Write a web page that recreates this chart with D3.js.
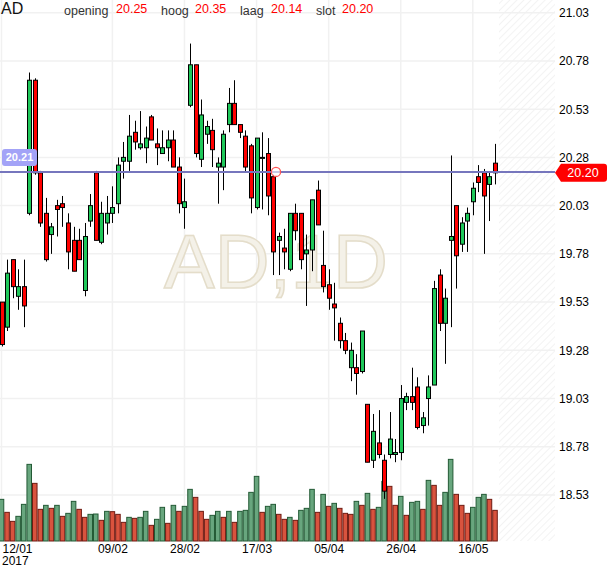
<!DOCTYPE html>
<html>
<head>
<meta charset="utf-8">
<script src="https://cdn.jsdelivr.net/npm/d3@7"></script>
<style>
  body { margin: 0; background: #fff; }
  svg { display: block; font-family: "Liberation Sans", Arial, sans-serif; }
</style>
</head>
<body>
<div id="chart"></div>
<script>
var dates = [
  "2017-01-12","2017-01-13","2017-01-16","2017-01-17","2017-01-18","2017-01-19","2017-01-20","2017-01-23","2017-01-24","2017-01-25",
  "2017-01-26","2017-01-27","2017-01-30","2017-01-31","2017-02-01","2017-02-02","2017-02-03","2017-02-06","2017-02-07","2017-02-08",
  "2017-02-09","2017-02-10","2017-02-13","2017-02-14","2017-02-15","2017-02-16","2017-02-17","2017-02-20","2017-02-21","2017-02-22",
  "2017-02-23","2017-02-24","2017-02-27","2017-02-28","2017-03-01","2017-03-02","2017-03-03","2017-03-06","2017-03-07","2017-03-08",
  "2017-03-09","2017-03-10","2017-03-13","2017-03-14","2017-03-15","2017-03-16","2017-03-17","2017-03-20","2017-03-21","2017-03-22",
  "2017-03-23","2017-03-24","2017-03-27","2017-03-28","2017-03-29","2017-03-30","2017-03-31","2017-04-03","2017-04-04","2017-04-05",
  "2017-04-06","2017-04-07","2017-04-10","2017-04-11","2017-04-12","2017-04-13","2017-04-18","2017-04-19","2017-04-20","2017-04-21",
  "2017-04-24","2017-04-25","2017-04-26","2017-04-27","2017-04-28","2017-05-02","2017-05-03","2017-05-04","2017-05-05","2017-05-08",
  "2017-05-09","2017-05-10","2017-05-11","2017-05-12","2017-05-15","2017-05-16","2017-05-17","2017-05-18","2017-05-19","2017-05-22"
];

var opens = [
  19.53,19.40,19.75,19.56,19.61,19.99,20.68,20.20,19.99,19.88,
  20.03,20.04,19.94,19.85,19.85,19.59,19.95,20.20,19.84,19.94,
  19.99,20.04,20.26,20.26,20.41,20.33,20.33,20.49,20.35,20.30,
  20.33,20.37,20.23,20.02,20.55,20.76,20.27,20.40,20.42,20.23,
  20.23,20.45,20.56,20.45,20.39,20.34,20.02,20.28,20.30,20.18,
  19.85,19.81,19.70,19.99,19.99,19.78,19.80,20.11,19.72,19.62,
  19.52,19.42,19.33,19.19,19.19,19.17,19.00,18.71,18.80,18.71,
  18.74,18.74,18.75,19.01,19.04,19.09,18.89,19.03,19.10,19.67,
  19.42,19.85,20.03,19.83,19.95,20.05,20.18,20.20,20.14,20.25
];
var highs = [
  19.53,19.75,19.75,19.70,19.75,20.72,20.69,20.21,20.07,19.94,
  20.06,20.08,19.99,19.92,19.91,19.94,20.09,20.21,20.05,20.08,
  20.13,20.28,20.36,20.50,20.47,20.52,20.44,20.50,20.43,20.42,
  20.42,20.42,20.28,20.17,20.87,20.76,20.58,20.47,20.48,20.28,
  20.42,20.64,20.68,20.45,20.42,20.35,20.38,20.41,20.38,20.19,
  19.89,19.91,19.99,20.04,19.99,19.88,20.06,20.16,19.90,19.70,
  19.63,19.45,19.37,19.32,19.26,19.38,19.00,18.95,18.97,18.74,
  18.96,18.82,19.10,19.06,19.19,19.14,18.96,19.15,19.64,19.70,
  19.60,20.29,20.03,19.97,20.02,20.15,20.24,20.22,20.20,20.35
];
var lows = [
  19.30,19.38,19.55,19.49,19.40,19.98,20.19,19.92,19.74,19.78,
  19.87,19.92,19.70,19.69,19.75,19.56,19.92,19.85,19.83,19.88,
  19.94,19.99,20.17,20.21,20.32,20.32,20.25,20.37,20.24,20.30,
  20.26,20.23,19.99,19.91,20.54,20.28,20.23,20.35,20.23,20.04,
  20.11,20.41,20.45,20.38,20.20,19.99,20.01,20.01,19.98,19.67,
  19.67,19.70,19.69,19.85,19.70,19.51,19.69,19.93,19.58,19.49,
  19.33,19.29,19.26,19.12,19.05,19.16,18.70,18.67,18.72,18.51,
  18.72,18.70,18.71,18.97,18.97,18.87,18.85,18.89,19.10,19.38,
  19.21,19.40,19.60,19.79,19.79,19.98,20.10,19.78,19.95,20.14
];
var closes = [
  19.31,19.68,19.61,19.61,19.51,20.68,20.20,19.94,19.75,19.92,
  20.01,20.02,19.79,19.69,19.75,19.87,20.03,19.85,19.99,19.99,
  20.02,20.24,20.28,20.39,20.36,20.35,20.38,20.37,20.33,20.33,
  20.37,20.23,20.04,20.05,20.76,20.30,20.50,20.44,20.32,20.25,
  20.40,20.56,20.45,20.41,20.23,20.07,20.38,20.28,20.08,19.79,
  19.87,19.79,19.99,19.90,19.75,19.80,20.06,19.93,19.61,19.55,
  19.50,19.33,19.28,19.28,19.16,19.38,18.70,18.86,18.74,18.55,
  18.82,18.75,19.03,19.04,19.01,18.88,18.93,19.09,19.60,19.42,
  19.55,19.87,19.77,19.94,19.99,20.12,20.15,20.08,20.18,20.20
];
var volumes = [
  125000, 86000, 59000, 74000,110000,230000,173000, 95000,107000, 98000,
  107000, 74000, 83000,119000, 95000, 71000, 80000, 81000, 62000, 89000,
   88000, 80000, 56000, 71000, 68000, 71000, 89000, 47000, 65000,101000,
   53000,107000, 89000,104000,155000,131000, 89000, 65000, 77000, 89000,
   71000, 89000, 56000, 89000, 92000,146000,194000, 86000,104000,110000,
   80000, 65000, 71000, 62000, 92000, 98000,155000, 86000,140000,104000,
  113000, 98000, 83000, 80000,119000,107000,143000, 95000,101000,179000,
  164000,107000,134000, 77000,116000,119000, 95000,182000,167000,107000,
  146000,245000,140000,107000, 83000,101000,131000,140000,125000, 92000
];

var priceTicks = [18.53, 18.78, 19.03, 19.28, 19.53, 19.78, 20.03, 20.28, 20.53, 20.78, 21.03];
var dateTicks = ["2017-01-12","2017-02-09","2017-02-28","2017-03-17","2017-04-05","2017-04-26","2017-05-16"];
var dateTickLabels = ["12/01","09/02","28/02","17/03","05/04","26/04","16/05"];
var yearLabel = "2017";

var symbol = "AD";
var watermark = "AD,1D";
var headerNames = ["opening", "hoog", "laag", "slot"];
var headerValues = ["20.25", "20.35", "20.14", "20.20"];
var lineLevel = 20.21;
var lastClose = closes[closes.length - 1];

var width = 610;
var height = 568;
var plotRight = 555;
var volBottom = 541;

var greenBody = "#1fc85a";
var redBody = "#ff0000";
var volGreen = "#68a67e", volGreenEdge = "#235a35";
var volRed = "#d9533e", volRedEdge = "#6e1b12";

var candles = dates.map((d, i) => ({
  date: d, open: opens[i], high: highs[i], low: lows[i], close: closes[i], volume: volumes[i]
}));

var xScale = d3.scalePoint()
  .domain(dates)
  .range([1.5, 495]);

var yScale = d3.scaleLinear()
  .domain([18.53, 21.03])
  .range([495, 12.7]);

var vScale = d3.scaleLinear()
  .domain([0, 250000])
  .range([volBottom, volBottom - 83.3]);

var step = xScale.step();

var svg = d3.select("#chart").append("svg")
  .attr("width", width)
  .attr("height", height);

var defs = svg.append("defs");
var hatch = defs.append("pattern")
  .attr("id", "hatch")
  .attr("patternUnits", "userSpaceOnUse")
  .attr("width", 5)
  .attr("height", 5)
  .attr("patternTransform", "rotate(45)");
hatch.append("line")
  .attr("x1", 0).attr("y1", 0)
  .attr("x2", 0).attr("y2", 5)
  .attr("stroke", "#ececec")
  .attr("stroke-width", 1.3);

svg.append("rect")
  .attr("width", width)
  .attr("height", height)
  .attr("fill", "#fff");

// future area at the right of the last candle
svg.append("rect")
  .attr("x", xScale(dates[dates.length - 1]) + 4)
  .attr("y", 0)
  .attr("width", plotRight - xScale(dates[dates.length - 1]) - 4)
  .attr("height", volBottom)
  .attr("fill", "url(#hatch)");

// grid
svg.append("g")
  .selectAll("line")
  .data(priceTicks).enter()
  .append("line")
  .attr("x1", 0)
  .attr("x2", plotRight)
  .attr("y1", d => yScale(d))
  .attr("y2", d => yScale(d))
  .attr("stroke", "#f1f1f1")
  .attr("stroke-width", 1.5);

svg.append("g")
  .selectAll("line")
  .data(dateTicks).enter()
  .append("line")
  .attr("x1", d => xScale(d))
  .attr("x2", d => xScale(d))
  .attr("y1", 0)
  .attr("y2", volBottom)
  .attr("stroke", "#f1f1f1")
  .attr("stroke-width", 1.5);

svg.append("text")
  .attr("x", 276)
  .attr("y", 288)
  .attr("text-anchor", "middle")
  .style("font-size", "76px")
  .attr("fill", "#f4f1e8")
  .attr("stroke", "#e4ddca")
  .attr("stroke-width", 1.5)
  .text(watermark);

// volume
svg.append("g")
  .selectAll("rect")
  .data(candles).enter()
  .append("rect")
  .attr("x", d => xScale(d.date) - (step - 1) / 2)
  .attr("width", step - 1)
  .attr("y", d => vScale(d.volume))
  .attr("height", d => volBottom - vScale(d.volume))
  .attr("fill", (d, i) => (i == 0 || d.volume >= candles[i - 1].volume) ? volGreen : volRed)
  .attr("stroke", (d, i) => (i == 0 || d.volume >= candles[i - 1].volume) ? volGreenEdge : volRedEdge)
  .attr("stroke-width", 1);

// candles
var cg = svg.append("g");
cg.selectAll("line")
  .data(candles).enter()
  .append("line")
  .attr("x1", d => Math.round(xScale(d.date)) + 0.5)
  .attr("x2", d => Math.round(xScale(d.date)) + 0.5)
  .attr("y1", d => yScale(d.high))
  .attr("y2", d => yScale(d.low))
  .attr("stroke", "#000")
  .attr("stroke-width", 1);

cg.selectAll("rect")
  .data(candles).enter()
  .append("rect")
  .attr("x", d => Math.round(xScale(d.date)) - 1.5)
  .attr("width", 4)
  .attr("y", d => yScale(Math.max(d.open, d.close)))
  .attr("height", d => Math.max(1, Math.abs(yScale(d.open) - yScale(d.close))))
  .attr("fill", d => d.close >= d.open ? greenBody : redBody)
  .attr("stroke", "#000")
  .attr("stroke-width", 1);

// horizontal line + markers
var lineY = yScale(lineLevel);
svg.append("line")
  .attr("x1", 0)
  .attr("x2", plotRight)
  .attr("y1", lineY + 1)
  .attr("y2", lineY + 1)
  .attr("stroke", "#7676bd")
  .attr("stroke-width", 2);

svg.append("circle")
  .attr("cx", xScale(dates[49]) + step / 2)
  .attr("cy", lineY + 1)
  .attr("r", 4.6)
  .attr("fill", "rgba(255,255,255,0.6)")
  .attr("stroke", "#f55")
  .attr("stroke-width", 1.3);

var lb = svg.append("g").attr("transform", `translate(2, ${lineY - 22})`);
lb.append("rect")
  .attr("width", 35)
  .attr("height", 17)
  .attr("rx", 3)
  .attr("fill", "#a3a3f7");
lb.append("text")
  .attr("x", 17.5)
  .attr("y", 12.5)
  .attr("text-anchor", "middle")
  .attr("fill", "#fff")
  .style("font-size", "11px")
  .style("font-weight", "bold")
  .text(lineLevel.toFixed(2));

var cy = yScale(lastClose);
var rb = svg.append("g").attr("transform", `translate(${plotRight}, ${cy})`);
rb.append("path")
  .attr("d", "M0,0 L6,-9 L49,-9 Q52,-9 52,-6 L52,6 Q52,9 49,9 L6,9 Z")
  .attr("fill", "#f00");
rb.append("text")
  .attr("x", 28)
  .attr("y", 4.5)
  .attr("text-anchor", "middle")
  .attr("fill", "#fff")
  .style("font-size", "12.5px")
  .text(lastClose.toFixed(2));

// axes
var yAxis = d3.axisRight(yScale)
  .tickValues(priceTicks)
  .tickSize(0)
  .tickPadding(0)
  .tickFormat(d3.format(".2f"));

svg.append("g")
  .attr("transform", `translate(559, 0)`)
  .call(yAxis)
  .call(g => g.select(".domain").remove())
  .selectAll("text")
  .style("font-size", "12px")
  .attr("fill", "#000");

var xAxis = d3.axisBottom(xScale)
  .tickValues(dateTicks)
  .tickSize(0)
  .tickPadding(0)
  .tickFormat((d, i) => dateTickLabels[i]);

var xg = svg.append("g")
  .attr("transform", `translate(0, ${volBottom + 3})`)
  .call(xAxis)
  .call(g => g.select(".domain").remove());
xg.selectAll("text")
  .style("font-size", "12px")
  .attr("fill", "#000");
xg.select(".tick text")
  .attr("text-anchor", "start")
  .attr("x", 0.5);

svg.append("text")
  .attr("x", 2)
  .attr("y", volBottom + 24)
  .style("font-size", "12px")
  .attr("fill", "#000")
  .text(yearLabel);

// header
svg.append("text")
  .attr("x", 1)
  .attr("y", 14)
  .style("font-size", "16px")
  .attr("fill", "#111")
  .text(symbol);

var hx = [64, 161, 240, 316];
var vx = [116, 195, 271, 342];
headerNames.forEach((n, i) => {
  svg.append("text")
    .attr("x", hx[i])
    .attr("y", 15)
    .style("font-size", "12.5px")
    .attr("fill", "#333")
    .text(n);
  svg.append("text")
    .attr("x", vx[i])
    .attr("y", 13)
    .style("font-size", "12.5px")
    .attr("fill", "#f00")
    .text(headerValues[i]);
});
</script>
</body>
</html>
